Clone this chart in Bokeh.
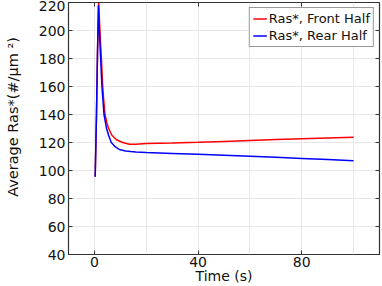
from bokeh.plotting import figure
from bokeh.models import LinearAxis, FixedTicker, Range1d, Legend, LegendItem
from bokeh.embed import file_html
from bokeh.resources import INLINE

# Data
t_front = [0.3, 0.8, 1.2, 1.65, 2.0, 2.4, 2.7, 3.2, 3.6, 4.1, 4.8, 5.5, 6.8, 8.5,
           10.9, 13.5, 16, 20, 30, 40, 50, 60, 70, 80, 90, 100]
ras_front = [95.6, 140, 185, 220, 205, 190, 180, 160, 150, 140, 134, 130, 125, 122,
             120, 118.8, 118.7, 119.2, 119.6, 120.1, 120.8, 121.5, 122.1, 122.7, 123.2, 123.7]
t_rear = [0.3, 0.8, 1.2, 1.55, 1.9, 2.4, 2.9, 3.3, 3.7, 4.7, 5.5, 6.5, 8, 9.6,
          12, 14, 16, 20, 30, 40, 50, 60, 70, 80, 90, 100]
ras_rear = [95.6, 140, 185, 218, 200, 180, 160, 150, 140, 130, 125, 120, 117, 115,
            114, 113.5, 113.2, 112.8, 112.2, 111.6, 110.9, 110.2, 109.4, 108.6, 107.8, 106.9]

x_ticks = [0, 40, 80]
x_grid = [0, 20, 40, 60, 80, 100]
y_ticks = [40, 60, 80, 100, 120, 140, 160, 180, 200, 220]

FONT = "DejaVu Sans"

p = figure(width=382, height=286, output_backend="svg", toolbar_location=None,
           x_range=Range1d(-10, 110), y_range=Range1d(40, 220),
           x_axis_location=None, y_axis_location=None,
           min_border_left=68, min_border_right=3, min_border_top=2, min_border_bottom=29)
p.outline_line_color = "#333333"
p.outline_line_width = 1.2

def style_axis(ax, labels=True, ticks=None):
    ax.major_tick_in = 4
    ax.major_tick_out = 0
    ax.minor_tick_in = 0
    ax.minor_tick_out = 0
    ax.major_tick_line_color = "#333333"
    ax.axis_line_color = None
    ax.major_label_text_font = FONT
    ax.major_label_text_color = "#111111"
    ax.major_label_text_font_size = "14px"
    if not labels:
        ax.major_label_overrides = {t: "" for t in ticks}
        ax.major_label_standoff = 0

xb = LinearAxis(ticker=FixedTicker(ticks=x_ticks), axis_label="Time (s)")
style_axis(xb)
xb.major_label_standoff = 2
xb.axis_label_standoff = -2
xb.axis_label_text_font = FONT
xb.axis_label_text_font_style = "normal"
xb.axis_label_text_font_size = "14px"
xb.axis_label_text_color = "#111111"
p.add_layout(xb, "below")

yl = LinearAxis(ticker=FixedTicker(ticks=y_ticks),
                axis_label="\u00a0" * 5 + "Average Ras*(#/μm ²)")
style_axis(yl)
yl.major_label_standoff = 3
yl.axis_label_standoff = 15
yl.axis_label_text_font = FONT
yl.axis_label_text_font_style = "normal"
yl.axis_label_text_font_size = "14.5px"
yl.axis_label_text_color = "#111111"
p.add_layout(yl, "left")

xt = LinearAxis(ticker=FixedTicker(ticks=x_ticks))
style_axis(xt, labels=False, ticks=x_ticks)
p.add_layout(xt, "above")

yr = LinearAxis(ticker=FixedTicker(ticks=y_ticks))
style_axis(yr, labels=False, ticks=y_ticks)
p.add_layout(yr, "right")

p.xgrid.ticker = FixedTicker(ticks=x_grid)
p.ygrid.ticker = FixedTicker(ticks=y_ticks)
p.xgrid.grid_line_color = "#e8e8e8"
p.ygrid.grid_line_color = "#e8e8e8"

r1 = p.line(t_front, ras_front, line_color="#ff0000", line_width=1.5)
r2 = p.line(t_rear, ras_rear, line_color="#0000ff", line_width=1.5)

legend = Legend(items=[LegendItem(label="Ras*, Front Half", renderers=[r1]),
                       LegendItem(label="Ras*, Rear Half", renderers=[r2])],
                location="top_right")
legend.label_text_font = FONT
legend.label_text_font_size = "13px"
legend.label_text_color = "#111111"
legend.glyph_width = 14
legend.glyph_height = 15
legend.label_standoff = 2
legend.label_height = 15
legend.spacing = 2
legend.padding = 3
legend.margin = 5
legend.border_line_color = "#333333"
legend.border_line_width = 1
legend.background_fill_alpha = 1
p.add_layout(legend, "center")

open("out.html", "w").write(file_html(p, INLINE))
